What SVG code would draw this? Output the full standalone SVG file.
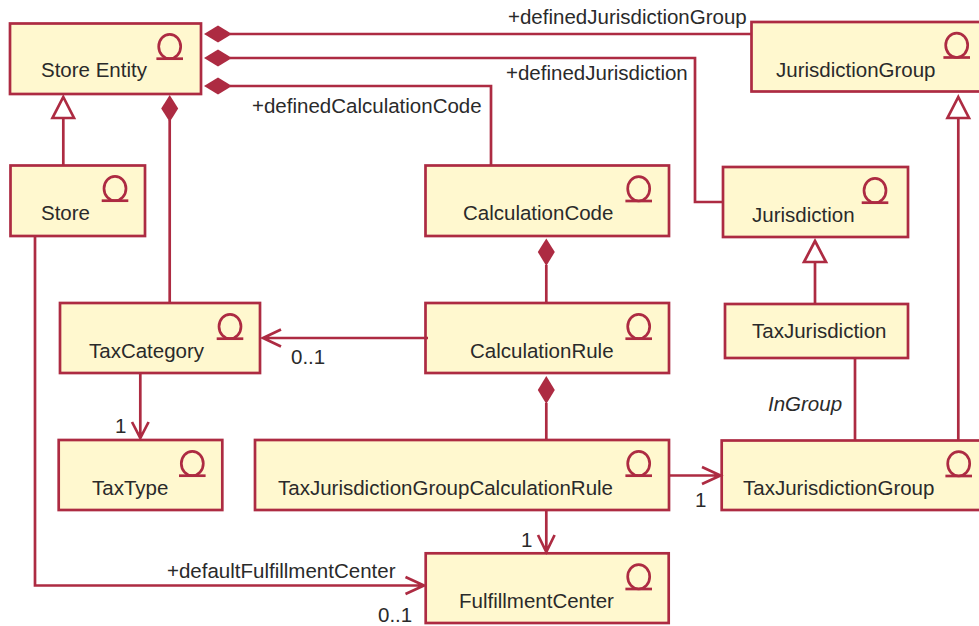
<svg xmlns="http://www.w3.org/2000/svg" width="979" height="626" viewBox="0 0 979 626">
<style>
.b{fill:#fff8cf;stroke:#ad2b42;stroke-width:2.7}
.i{fill:none;stroke:#ad2b42;stroke-width:2.7}
.c{fill:none;stroke:#ad2b42;stroke-width:2.7}
.d{fill:#ad2b42;stroke:none}
.g{fill:#fff;stroke:#ad2b42;stroke-width:2.7}
text{font-family:"Liberation Sans",Arial,sans-serif;font-size:20.5px;fill:#2a2a2a}
</style>
<defs>
<g id="ic"><ellipse cx="0" cy="-12.200" rx="11" ry="12.200" class="i"/><path d="M-13.300 0H13.300" class="i"/></g>
</defs>
<rect width="979" height="626" fill="#fff"/>
<g id="store-entity"><rect class="b" x="10" y="23.500" width="191" height="70.500"/><use href="#ic" x="169.700" y="58.700"/><text x="41" y="77.300">Store Entity</text></g>
<g id="jurisdiction-group"><rect class="b" x="751.500" y="22" width="235" height="69.500"/><use href="#ic" x="956.700" y="57.500"/><text x="776" y="77">JurisdictionGroup</text></g>
<g id="store"><rect class="b" x="10.500" y="165.500" width="134.500" height="70.500"/><use href="#ic" x="115" y="200.700"/><text x="41" y="220">Store</text></g>
<g id="calculation-code"><rect class="b" x="425.500" y="165.500" width="243.500" height="70.500"/><use href="#ic" x="638.700" y="201"/><text x="463" y="219.500">CalculationCode</text></g>
<g id="jurisdiction"><rect class="b" x="723" y="167" width="185" height="70"/><use href="#ic" x="875" y="202.700"/><text x="752" y="222">Jurisdiction</text></g>
<g id="tax-category"><rect class="b" x="60" y="303" width="200" height="70"/><use href="#ic" x="230" y="338.700"/><text x="89" y="358">TaxCategory</text></g>
<g id="calculation-rule"><rect class="b" x="425.500" y="303" width="243.500" height="70"/><use href="#ic" x="638.700" y="338.700"/><text x="470" y="358">CalculationRule</text></g>
<g id="tax-jurisdiction"><rect class="b" x="725" y="304" width="183" height="54"/><text x="752" y="338">TaxJurisdiction</text></g>
<g id="tax-type"><rect class="b" x="58.700" y="440" width="163.600" height="70"/><use href="#ic" x="192.300" y="475.700"/><text x="92" y="495">TaxType</text></g>
<g id="tjg-calculation-rule"><rect class="b" x="255" y="440" width="414" height="70"/><use href="#ic" x="638.700" y="475.700"/><text x="278" y="495">TaxJurisdictionGroupCalculationRule</text></g>
<g id="tax-jurisdiction-group"><rect class="b" x="721.700" y="440.500" width="265" height="69.500"/><use href="#ic" x="958.700" y="476"/><text x="743" y="495">TaxJurisdictionGroup</text></g>
<g id="fulfillment-center"><rect class="b" x="425.700" y="553.300" width="243" height="69.700"/><use href="#ic" x="638.700" y="589"/><text x="459" y="608">FulfillmentCenter</text></g>
<g id="connectors">
<path class="c" d="M230 34H752"/>
<path class="d" d="M204 34L218 25.500L232 34L218 42.500Z"/>
<path class="c" d="M230 58H695V202H723"/>
<path class="d" d="M204 58L218 49.500L232 58L218 66.500Z"/>
<path class="c" d="M230 86H491V165"/>
<path class="d" d="M204 86L218 77.500L232 86L218 94.500Z"/>
<path class="c" d="M63.300 118V165"/>
<path class="g" d="M63.300 97L74 118H52.500Z"/>
<path class="c" d="M169.700 120V303"/>
<path class="d" d="M169.700 95L178.200 108.500L169.700 122L161.200 108.500Z"/>
<path class="c" d="M35 236V585.500H424M405.500 577L424 585.500L405.500 594"/>
<path class="c" d="M546.300 265V303"/>
<path class="d" d="M546.300 238.500L554.800 252L546.300 266L537.800 252Z"/>
<path class="c" d="M546.300 403V440"/>
<path class="d" d="M546.300 376L554.800 390L546.300 404L537.800 390Z"/>
<path class="c" d="M428 338H263M281 329.500L263 338L281 346.500"/>
<path class="c" d="M140.300 373V438M132 422L140.300 438L148.600 422"/>
<path class="c" d="M815 262V304"/>
<path class="g" d="M815 241L826 262H804Z"/>
<path class="c" d="M855 358V440"/>
<path class="c" d="M958.300 118V440"/>
<path class="g" d="M958.300 97L969 118H947.500Z"/>
<path class="c" d="M669 475.500H720.500M702 467L720.500 475.500L702 484"/>
<path class="c" d="M546.300 510V552M538 535L546.300 552L554.600 535"/>
</g>
<g id="labels">
<text x="508" y="24">+definedJurisdictionGroup</text>
<text x="506" y="80">+definedJurisdiction</text>
<text x="252" y="113">+definedCalculationCode</text>
<text x="291" y="364">0..1</text>
<text x="115" y="433">1</text>
<text x="768" y="411" font-style="italic">InGroup</text>
<text x="695" y="507">1</text>
<text x="521" y="547">1</text>
<text x="167" y="578">+defaultFulfillmentCenter</text>
<text x="378" y="622">0..1</text>
</g>
</svg>
